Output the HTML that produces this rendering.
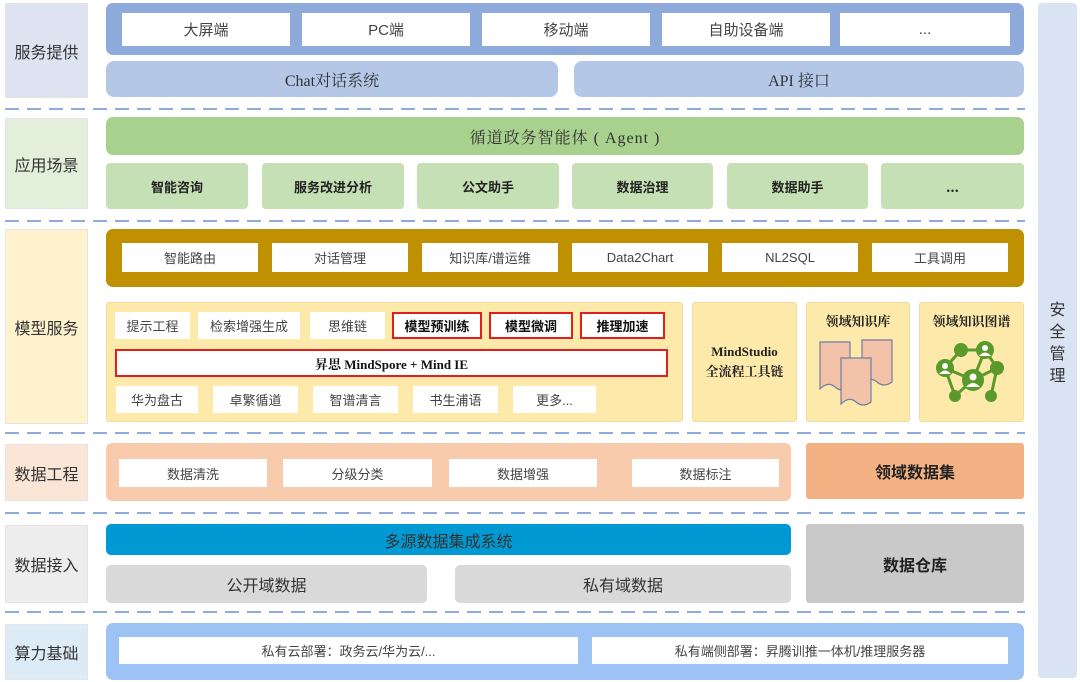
<!DOCTYPE html>
<html><head><meta charset="utf-8"><style>
body{margin:0;width:1080px;height:682px;background:#fff;position:relative;overflow:hidden;font-family:"Liberation Serif","Noto Serif CJK SC","Noto Sans CJK SC",serif;}
.b{position:absolute;display:flex;align-items:center;justify-content:center;box-sizing:border-box;text-align:center;color:#333;}
.L{left:5px;width:83px;font-size:16px;border:1px solid #e4e4e4;font-family:"Liberation Sans","Noto Sans CJK SC",sans-serif;color:#333}
.w{background:#fff;font-size:13px;font-family:"Liberation Sans","Noto Sans CJK SC",sans-serif;color:#444}
.r{border:2px solid #e02020;font-weight:bold;color:#111}
.g{background:#c5e0b4;border-radius:4px;font-size:13px;font-weight:bold;color:#222;font-family:"Noto Sans CJK SC",sans-serif}
.d{position:absolute;left:5px;width:1020px;height:2px;background:repeating-linear-gradient(90deg,#8faadc 0 14px,transparent 14px 22px);}
.y{background:#fde9a9;border-radius:3px;border:1px solid #f0dca0}
</style></head><body>
<div class="b L" style="top:3px;height:95px;background:#dde3f0">服务提供</div>
<div class="b L" style="top:118px;height:91px;background:#e2efda">应用场景</div>
<div class="b L" style="top:229px;height:195px;background:#fff2cc">模型服务</div>
<div class="b L" style="top:444px;height:57px;background:#fbe5d6">数据工程</div>
<div class="b L" style="top:525px;height:78px;background:#ededed">数据接入</div>
<div class="b L" style="top:624px;height:56px;background:#ddebf7">算力基础</div>
<div class="b" style="left:1038px;top:3px;width:39px;height:675px;background:#dae3f3;border-radius:4px;font-size:16px;line-height:22px;font-family:'Noto Sans CJK SC',sans-serif">安<br>全<br>管<br>理</div>
<div class="d" style="top:108px"></div>
<div class="d" style="top:220px"></div>
<div class="d" style="top:432px"></div>
<div class="d" style="top:512px"></div>
<div class="d" style="top:611px"></div>
<div class="b" style="left:106px;top:3px;width:918px;height:52px;background:#8eaadb;border-radius:7px"></div>
<div class="b w" style="left:122px;top:13px;width:168px;height:33px;font-size:15px">大屏端</div>
<div class="b w" style="left:302px;top:13px;width:168px;height:33px;font-size:15px">PC端</div>
<div class="b w" style="left:482px;top:13px;width:168px;height:33px;font-size:15px">移动端</div>
<div class="b w" style="left:662px;top:13px;width:168px;height:33px;font-size:15px">自助设备端</div>
<div class="b w" style="left:840px;top:13px;width:170px;height:33px;font-size:15px">...</div>
<div class="b" style="left:106px;top:61px;width:452px;height:36px;background:#b4c7e7;border-radius:8px;font-size:16px">Chat对话系统</div>
<div class="b" style="left:574px;top:61px;width:450px;height:36px;background:#b4c7e7;border-radius:8px;font-size:16px">API 接口</div>
<div class="b" style="left:106px;top:117px;width:918px;height:38px;background:#a9d18e;border-radius:7px;font-size:16px;letter-spacing:1px">循道政务智能体 ( Agent )</div>
<div class="b g" style="left:106px;top:163px;width:142px;height:46px">智能咨询</div>
<div class="b g" style="left:262px;top:163px;width:142px;height:46px">服务改进分析</div>
<div class="b g" style="left:417px;top:163px;width:142px;height:46px">公文助手</div>
<div class="b g" style="left:572px;top:163px;width:141px;height:46px">数据治理</div>
<div class="b g" style="left:727px;top:163px;width:141px;height:46px">数据助手</div>
<div class="b g" style="left:881px;top:163px;width:143px;height:46px">...</div>
<div class="b" style="left:106px;top:229px;width:918px;height:58px;background:#bf9000;border-radius:7px"></div>
<div class="b w" style="left:122px;top:243px;width:136px;height:29px">智能路由</div>
<div class="b w" style="left:272px;top:243px;width:136px;height:29px">对话管理</div>
<div class="b w" style="left:422px;top:243px;width:136px;height:29px">知识库/谱运维</div>
<div class="b w" style="left:572px;top:243px;width:136px;height:29px">Data2Chart</div>
<div class="b w" style="left:722px;top:243px;width:136px;height:29px">NL2SQL</div>
<div class="b w" style="left:872px;top:243px;width:136px;height:29px">工具调用</div>
<div class="b y" style="left:106px;top:302px;width:577px;height:120px"></div>
<div class="b w" style="left:115px;top:312px;width:75px;height:27px">提示工程</div>
<div class="b w" style="left:198px;top:312px;width:102px;height:27px">检索增强生成</div>
<div class="b w" style="left:310px;top:312px;width:75px;height:27px">思维链</div>
<div class="b w r" style="left:392px;top:312px;width:90px;height:27px">模型预训练</div>
<div class="b w r" style="left:489px;top:312px;width:84px;height:27px">模型微调</div>
<div class="b w r" style="left:580px;top:312px;width:85px;height:27px">推理加速</div>
<div class="b w r" style="left:115px;top:349px;width:553px;height:28px;font-family:'Liberation Serif','Noto Serif CJK SC',serif">昇思 MindSpore + Mind IE</div>
<div class="b w" style="left:116px;top:386px;width:82px;height:27px">华为盘古</div>
<div class="b w" style="left:213px;top:386px;width:85px;height:27px">卓繁循道</div>
<div class="b w" style="left:313px;top:386px;width:85px;height:27px">智谱清言</div>
<div class="b w" style="left:413px;top:386px;width:85px;height:27px">书生浦语</div>
<div class="b w" style="left:513px;top:386px;width:83px;height:27px">更多...</div>
<div class="b y" style="left:692px;top:302px;width:105px;height:120px;font-weight:bold;font-size:13px;color:#222;line-height:20px">MindStudio<br>全流程工具链</div>
<div class="b y" style="left:806px;top:302px;width:104px;height:120px;align-items:flex-start;padding-top:8px;font-weight:bold;font-size:13px;color:#222">领域知识库</div>
<svg style="position:absolute;left:818px;top:338px" width="80" height="70" viewBox="0 0 80 70">
<path d="M2 4h30v45q-8 6-15 0t-15 2z" fill="#f4c2a8" stroke="#6d7fa8" stroke-width="1.2"/>
<path d="M44 2h30v42q-8 6-15 0t-15 2z" fill="#f4c2a8" stroke="#6d7fa8" stroke-width="1.2"/>
<path d="M23 20h30v44q-8 6-15 0t-15 2z" fill="#f4c2a8" stroke="#6d7fa8" stroke-width="1.2"/>
</svg>
<div class="b y" style="left:919px;top:302px;width:105px;height:120px;align-items:flex-start;padding-top:8px;font-weight:bold;font-size:13px;color:#222">领域知识图谱</div>
<svg style="position:absolute;left:933px;top:338px" width="80" height="70" viewBox="0 0 80 70">
<g stroke="#5a9a2a" stroke-width="3" fill="none">
<line x1="12" y1="30" x2="28" y2="12"/><line x1="28" y1="12" x2="52" y2="12"/><line x1="52" y1="12" x2="64" y2="30"/>
<line x1="12" y1="30" x2="40" y2="42"/><line x1="64" y1="30" x2="40" y2="42"/><line x1="52" y1="12" x2="40" y2="42"/>
<line x1="12" y1="30" x2="22" y2="58"/><line x1="40" y1="42" x2="22" y2="58"/><line x1="64" y1="30" x2="58" y2="58"/></g>
<g fill="#5a9a2a"><circle cx="12" cy="30" r="9"/><circle cx="28" cy="12" r="7"/><circle cx="52" cy="12" r="9"/><circle cx="64" cy="30" r="7"/><circle cx="40" cy="42" r="11"/><circle cx="22" cy="58" r="6"/><circle cx="58" cy="58" r="6"/></g>
<g fill="#fff"><circle cx="40" cy="39" r="3.5"/><path d="M33 49q7-8 14 0z"/><circle cx="12" cy="28" r="3"/><path d="M6 36q6-7 12 0z"/><circle cx="52" cy="10" r="3"/><path d="M46 18q6-7 12 0z"/></g>
</svg>
<div class="b" style="left:106px;top:443px;width:685px;height:58px;background:#f8cbad;border-radius:6px"></div>
<div class="b w" style="left:119px;top:459px;width:148px;height:28px">数据清洗</div>
<div class="b w" style="left:283px;top:459px;width:149px;height:28px">分级分类</div>
<div class="b w" style="left:449px;top:459px;width:148px;height:28px">数据增强</div>
<div class="b w" style="left:632px;top:459px;width:147px;height:28px">数据标注</div>
<div class="b" style="left:806px;top:443px;width:218px;height:56px;background:#f4b183;border-radius:3px;font-size:16px;font-weight:bold;color:#222;font-family:'Noto Sans CJK SC',sans-serif">领域数据集</div>
<div class="b" style="left:106px;top:524px;width:685px;height:31px;background:#0099d3;border-radius:5px;font-size:16px;font-family:'Noto Sans CJK SC',sans-serif">多源数据集成系统</div>
<div class="b" style="left:106px;top:565px;width:321px;height:38px;background:#d9d9d9;border-radius:5px;font-size:16px;font-family:'Noto Sans CJK SC',sans-serif">公开域数据</div>
<div class="b" style="left:455px;top:565px;width:336px;height:38px;background:#d9d9d9;border-radius:5px;font-size:16px;font-family:'Noto Sans CJK SC',sans-serif">私有域数据</div>
<div class="b" style="left:806px;top:524px;width:218px;height:79px;background:#c9c9c9;border-radius:3px;font-size:16px;font-weight:bold;color:#222;font-family:'Noto Sans CJK SC',sans-serif">数据仓库</div>
<div class="b" style="left:106px;top:623px;width:918px;height:57px;background:#9dc3f5;border-radius:7px"></div>
<div class="b w" style="left:119px;top:637px;width:459px;height:27px">私有云部署：政务云/华为云/...</div>
<div class="b w" style="left:592px;top:637px;width:416px;height:27px">私有端侧部署：昇腾训推一体机/推理服务器</div>
</body></html>
